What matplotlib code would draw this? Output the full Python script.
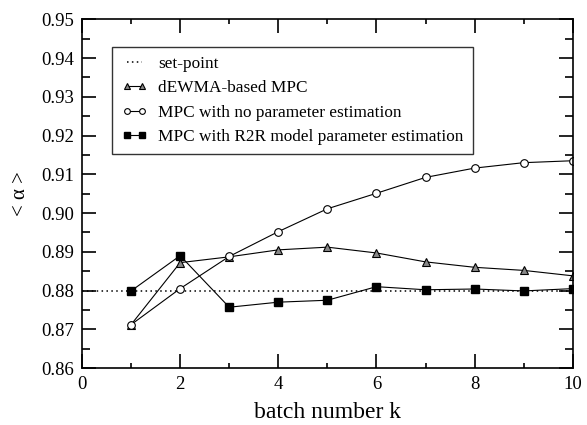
import numpy as np
import matplotlib
matplotlib.use('Agg')
import matplotlib.pyplot as plt
from matplotlib.ticker import MultipleLocator

plt.rcParams['font.family'] = ['Liberation Serif', 'DejaVu Serif']

k = np.arange(1, 11)
set_point = 0.88
dewma = [0.8712, 0.8872, 0.8887, 0.8905, 0.8912, 0.8897, 0.8874, 0.8860, 0.8852, 0.8838]
no_est = [0.8712, 0.8805, 0.8888, 0.8952, 0.9011, 0.9051, 0.9092, 0.9116, 0.9130, 0.9135]
r2r = [0.8799, 0.8890, 0.8757, 0.8770, 0.8775, 0.8810, 0.8802, 0.8804, 0.8799, 0.8805]

fig = plt.figure(figsize=(5.87, 4.25), dpi=100)
ax = fig.add_axes([0.1397, 0.134, 0.836, 0.8206])

ax.plot([0, 10], [set_point, set_point], ls=(0, (1, 2.2)), color='black', lw=1.1, label='set-point')
ax.plot(k, dewma, '-^', color='black', lw=0.8, ms=5.5, mfc='#888888', mec='black', mew=0.8,
        label='dEWMA-based MPC')
ax.plot(k, no_est, '-o', color='black', lw=0.8, ms=5.5, mfc='white', mec='black', mew=0.8,
        label='MPC with no parameter estimation')
ax.plot(k, r2r, '-s', color='black', lw=0.8, ms=5.5, mfc='black', mec='black',
        label='MPC with R2R model parameter estimation')

ax.set_xlim(0, 10)
ax.set_ylim(0.86, 0.95)
ax.xaxis.set_major_locator(MultipleLocator(2))
ax.xaxis.set_minor_locator(MultipleLocator(1))
ax.yaxis.set_major_locator(MultipleLocator(0.01))
ax.yaxis.set_minor_locator(MultipleLocator(0.005))
ax.yaxis.set_major_formatter(plt.FormatStrFormatter('%.2f'))
ax.tick_params(which='both', direction='in', top=True, right=True, labelsize=13.5, width=1.2)
ax.tick_params(which='major', length=10, pad=6)
ax.tick_params(axis='x', which='minor', length=3.5)
ax.tick_params(axis='y', which='minor', length=5.5)
for s in ax.spines.values():
    s.set_linewidth(1.2)

ax.set_xlabel('batch number k', fontsize=17, labelpad=6.5)
ax.set_ylabel('< α >', fontsize=15, labelpad=8)

leg = ax.legend(loc='upper left', bbox_to_anchor=(0.0618, 0.9214), borderaxespad=0,
                fontsize=12.4, frameon=True, fancybox=False, edgecolor='black',
                numpoints=2, handlelength=1.5, handletextpad=0.6,
                borderpad=0.55, labelspacing=0.47, markerscale=0.75)
leg.get_frame().set_linewidth(1)

fig.savefig('out.png', dpi=100)
